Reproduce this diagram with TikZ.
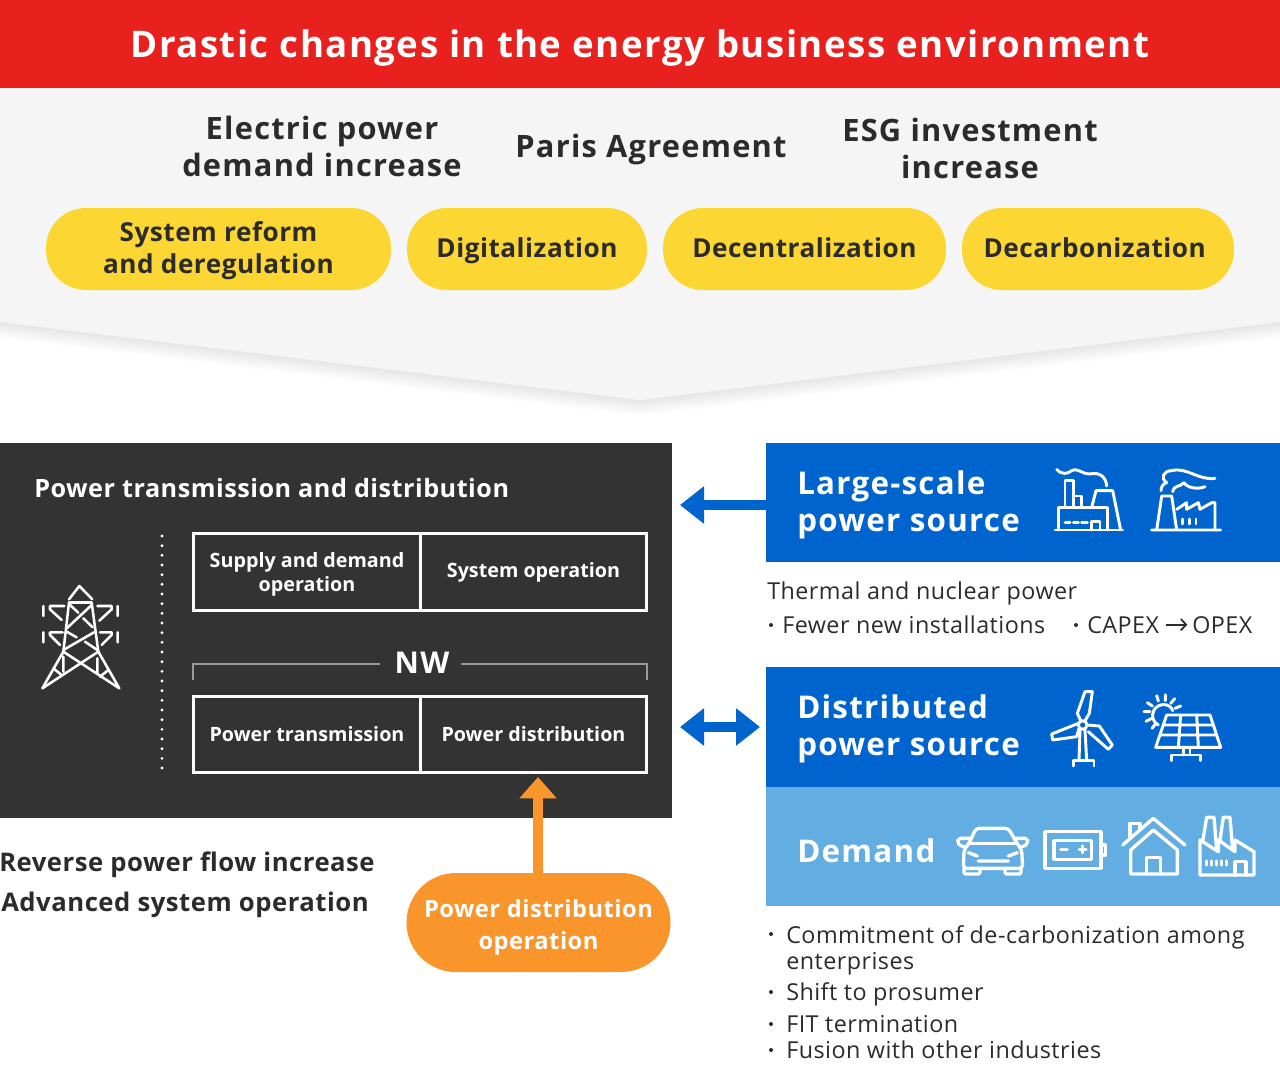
\documentclass[tikz,border=0pt]{standalone}
\usepackage{fontspec}
\usepackage{tikz}
\usetikzlibrary{arrows.meta}
\setmainfont{Open Sans}
\newfontfamily\tsp[LetterSpace=4]{Open Sans}
\newfontfamily\ssp[LetterSpace=2]{Open Sans}
\definecolor{redbar}{HTML}{E8201E}
\definecolor{greybg}{HTML}{F5F5F5}
\definecolor{ink}{HTML}{2B2B2B}
\definecolor{panel}{HTML}{333333}
\definecolor{bluebx}{HTML}{0064CE}
\definecolor{lightbx}{HTML}{62ADE1}
\definecolor{yellowp}{HTML}{FCD734}
\definecolor{orangep}{HTML}{F9952A}
\definecolor{bracketc}{HTML}{9A9A9A}
\newcommand{\fs}[2]{\fontsize{#1}{#2}\selectfont}
\newcommand{\oneline}{\rule[-5pt]{0pt}{23.2pt}}
\tikzset{
 x=0.75pt,y=-0.75pt,
 headline/.style={text=ink,align=center,font=\tsp\bfseries\fs{23.1}{27.7},inner sep=0},
 pill/.style={fill=yellowp,rounded corners=30pt,inner sep=0,outer sep=0,align=center,text=ink,font=\ssp\bfseries\fs{19.6}{24}},
 cell/.style={draw=white,line width=2.25pt,fill=panel,inner sep=0,outer sep=0,align=center,text=white,minimum width=169.9pt,minimum height=57.3pt,font=\bfseries\fs{14.8}{18.5}},
 bluetitle/.style={text=white,align=left,font=\tsp\bfseries\fs{23.5}{28},inner sep=0,anchor=west},
 bodyt/.style={text=ink,font=\ssp\fs{17.5}{21},inner sep=0,anchor=base west},
 lefttxt/.style={text=ink,font=\ssp\bfseries\fs{19.25}{24},inner sep=0},
 iconl/.style={draw=white,line width=2.2pt,line cap=round,line join=round},
 tower/.style={draw=white,line width=1.9pt,line cap=round,line join=round},
 zoomed/.style={x=0.25pt,y=-0.25pt},
 bigarrow/.style={line width=7pt},
 bullet/.style={fill=ink,draw=none,circle,inner sep=0,minimum size=3pt},
}
\begin{document}
\begin{tikzpicture}
\useasboundingbox (0,0) rectangle (1280,1064);
% soft shadow under the grey banner
\foreach \d in {2,4,...,16}
  \fill[black,opacity=0.012] (0,300+\d) -- (1280,300+\d) -- (1280,322+\d) -- (640,400+\d) -- (0,322+\d) -- cycle;
% backgrounds
\fill[greybg] (0,88) -- (1280,88) -- (1280,322) -- (640,400) -- (0,322) -- cycle;
\fill[redbar] (0,0) rectangle (1280,88);
\node[text=white,inner sep=0,font=\tsp\bfseries\fs{27.5}{32}] (title) at (640,47.5) {Drastic changes in the energy business environment};
% headlines
\node[headline] (h1) at (322,146) {Electric power\\demand increase};
\node[headline] (h2) at (651,149) {Paris Agreement};
\node[headline] (h3) at (970,148) {ESG investment\\increase};
% pills
\node[pill,minimum width=258.75pt,minimum height=61.5pt] (p1) at (218.5,249) {\rule{0pt}{18pt}System reform\\and deregulation};
\node[pill,minimum width=180pt,minimum height=61.5pt] (p2) at (527,249) {\oneline Digitalization};
\node[pill,minimum width=212.25pt,minimum height=61.5pt] (p3) at (804.5,249) {\oneline Decentralization};
\node[pill,minimum width=204pt,minimum height=61.5pt] (p4) at (1098,249) {\oneline Decarbonization\hspace*{5pt}};
% dark panel
\fill[panel] (0,443) rectangle (672,818);
\node[anchor=base west,inner sep=0,text=white,font=\ssp\bfseries\fs{18.9}{24}] (ptitle) at (34,497) {Power transmission and distribution};
\foreach \i in {0,...,24} \fill[white] (162,536+\i*9.667) circle[radius=1.6];
\begin{scope}[shift={(20,520)},zoomed]
\draw[tower] (147,238)--(178,198)--(217,238);
\draw[tower] (147,248)--(215,248);
\draw[tower] (147,248)--(130,395)--(67,505)--(235,395);
\draw[tower] (215,248)--(235,395)--(298,505)--(130,395);
\draw[tower] (215,255)--(140,325) (150,255)--(175,278) (190,295)--(218,322) (140,335)--(170,352) (222,337)--(130,390) (195,365)--(235,392);
\draw[tower] (130,410)--(130,455) (232,415)--(232,460) (100,445)--(125,465) (265,450)--(240,470);
\draw[tower] (70,258)--(70,288) (133,258)--(90,258)--(90,268)--(125,300) (232,258)--(275,258)--(275,268)--(238,302) (293,258)--(293,288);
\draw[tower] (70,337)--(70,367) (128,337)--(90,337)--(90,345)--(120,375) (240,337)--(275,337)--(275,345)--(245,375) (293,337)--(293,367);
\end{scope}
% cells
\node[cell] (c1) at (307,572) {\rule{0pt}{15pt}Supply and demand\\operation};
\node[cell] (c2) at (533.5,572) {\rule{0pt}{12.5pt}System operation};
\node[cell] (c3) at (307,734.3) {Power transmission};
\node[cell] (c4) at (533.5,734.3) {Power distribution};
% bracket
\node[text=white,inner sep=0,font=\tsp\bfseries\fs{22.5}{28}] (nw) at (422,663) {NW};
\coordinate (bl) at (193,680);
\coordinate (br) at (647,680);
\draw[bracketc,line width=1.8pt] (bl) -- (193,664) -- (380,664);
\draw[bracketc,line width=1.8pt] (461,664) -- (647,664) -- (br);
% left lower text
\node[lefttxt,anchor=base west] (r1) at (-1,871) {Reverse power flow increase};
\node[lefttxt,anchor=base west] (r2) at (1,911) {Advanced system operation};
% orange pill
\node[pill,fill=orangep,text=white,rounded corners=37pt,minimum width=198pt,minimum height=74.25pt,font=\ssp\bfseries\fs{17.8}{24}] (op) at (538.5,922.5) {\rule{0pt}{21pt}Power distribution\\operation};
\coordinate (otip) at (538,777);
\draw[orangep,line width=7pt,-{Triangle[length=16pt,width=27pt]}] (op.north -| otip) -- (otip);
% right boxes
\fill[bluebx] (766,443) rectangle (1280,562);
\fill[bluebx] (766,667) rectangle (1280,787);
\fill[lightbx] (766,787) rectangle (1280,906);
\coordinate (lb) at (766,505);
\coordinate (ltip) at (680,505);
\draw[bluebx,bigarrow,-{Triangle[length=18pt,width=27pt]}] (lb) -- (ltip);
\coordinate (dl) at (680,727);
\coordinate (dr) at (760,727);
\draw[bluebx,bigarrow,{Triangle[length=18pt,width=27pt]}-{Triangle[length=18pt,width=27pt]}] (dl) -- (dr);
\node[bluetitle,align=left] (b1) at (797,505) {Large-scale\\power source};
\node[bluetitle,align=left] (b2) at (797,729) {Distributed\\power source};
\node[bluetitle] (b3) at (797,851) {Demand};
% factory 1
\begin{scope}[shift={(1030,450)},zoomed]
\draw[iconl] (75,240)--(278,240) (85,240)--(85,172)--(232,172)--(232,240);
\draw[iconl] (105,172)--(105,92)--(130,92)--(130,172) (130,138)--(155,138)--(155,172);
\draw[iconl] (185,172)--(198,122)--(248,122)--(272,240);
\draw[iconl] (105,218)--(120,218) (130,218)--(145,218) (155,218)--(172,218);
\draw[iconl] (185,240)--(185,215)--(210,215)--(210,240);
\draw[iconl] (80,58) .. controls (95,75) and (112,72) .. (125,62) .. controls (145,52) and (160,75) .. (180,72) .. controls (210,65) and (228,82) .. (230,108);
% factory 2
\draw[iconl] (365,240)--(572,240) (380,240)--(395,138)--(425,138)--(440,240);
\draw[iconl] (440,178)--(470,158)--(470,178)--(505,158)--(510,178)--(545,158)--(555,158)--(555,240);
\draw[iconl] (458,207)--(458,222) (478,207)--(478,222) (498,207)--(498,222);
\draw[iconl] (393,122) .. controls (393,108) and (402,100) .. (410,98) .. controls (390,85) and (400,62) .. (425,62) .. controls (470,50) and (505,92) .. (555,85);
\draw[iconl] (428,125) .. controls (430,105) and (450,112) .. (462,98) .. controls (470,112) and (500,120) .. (525,110);
\end{scope}
% wind + solar
\begin{scope}[shift={(1030,680)},zoomed]
\draw[iconl] (158,135) circle[radius=13];
\draw[iconl] (152,122)--(142,100)--(165,35)--(187,35)--(178,100)--(165,122);
\draw[iconl] (145,130)--(65,162)--(68,180)--(140,170)--(147,145);
\draw[iconl] (172,135)--(208,138)--(247,195)--(235,208)--(175,155);
\draw[iconl] (150,150)--(147,242) (165,150)--(170,242);
\draw[iconl] (130,258)--(130,242)--(192,242)--(192,258);
\draw[iconl] (410,105)--(540,105)--(572,202)--(377,202)--cycle;
\draw[iconl] (400,135)--(548,135) (390,165)--(560,165) (452,105)--(445,202) (500,105)--(505,202);
\draw[iconl] (460,202)--(460,225) (480,202)--(480,225) (425,242)--(425,225)--(512,225)--(512,242);
\draw[iconl] (428,92) .. controls (420,68) and (385,68) .. (372,90) .. controls (362,108) and (370,128) .. (385,135);
\draw[iconl] (342,95)--(360,95) (352,68)--(367,78) (380,47)--(385,63) (406,44)--(406,62) (434,56)--(422,70) (452,78)--(435,85) (348,124)--(365,115) (366,145)--(378,130);
\end{scope}
% demand icons
\begin{scope}[shift={(940,800)},zoomed,iconl/.append style={line width=2.5pt}]
% car
\draw[iconl,rounded corners=2.5pt] (72,150)--(88,128)--(108,85)--(205,85)--(230,128)--(245,150)--(248,205)--(70,205)--cycle;
\draw[iconl] (88,130)--(230,130);
\draw[iconl,rounded corners=1.5pt] (92,115)--(55,115)--(52,128)--(65,140)--(80,140);
\draw[iconl,rounded corners=1.5pt] (226,115)--(262,115)--(264,128)--(252,140)--(238,140);
\draw[iconl,rounded corners=1.5pt] (72,205)--(72,222)--(120,222)--(120,205) (195,205)--(195,222)--(243,222)--(243,205);
\draw[iconl] (85,158)--(112,168) (232,158)--(205,168) (115,183)--(205,183);
% battery
\draw[iconl] (315,95) rectangle (483,205) (342,122) rectangle (455,178);
\draw[iconl] (483,135)--(497,135)--(497,165)--(483,165);
\draw[iconl] (362,148)--(382,148) (418,148)--(438,148) (428,138)--(428,158);
% house
\draw[iconl] (548,135)--(640,55)--(735,135);
\draw[iconl] (570,115)--(570,70)--(600,70)--(600,88);
\draw[iconl] (572,150)--(640,90)--(712,150)--(712,222)--(572,222)--cycle;
\draw[iconl] (620,222)--(620,172)--(662,172)--(662,222);
% factory
\draw[iconl] (780,120)--(780,225)--(942,225)--(942,155)--(885,120)--(885,155)--(835,120)--(835,155)--cycle;
\draw[iconl] (788,125)--(800,52)--(822,52)--(830,150) (840,120)--(850,52)--(870,52)--(878,150);
\draw[iconl] (885,225)--(885,185)--(918,185)--(918,225);
\draw[iconl] (800,183)--(800,195) (815,183)--(815,195) (830,183)--(830,195) (845,183)--(845,195) (860,183)--(860,195);
\end{scope}
% body text
\node[bodyt] (t1) at (767,599) {Thermal and nuclear power};
\node[bullet] (bu1) at (771,625) {};
\node[bodyt] (t2) at (782,633) {Fewer new installations};
\node[bullet] (bu2) at (1076,625) {};
\node[bodyt] (t3a) at (1087,633) {CAPEX};
\node[bodyt] (t3b) at (1192,633) {OPEX};
\draw[ink,line width=1.3pt,shorten >=3.5pt,shorten <=5.25pt,-{Straight Barb[length=4pt,width=8.5pt]}] (t3a.east) -- (t3a.east -| t3b.west);
\node[bullet] (bu3) at (771,934) {};
\node[bodyt,align=left,anchor=north west,font=\ssp\fs{17.5}{19.5}] (t4) at (786,925) {Commitment of de-carbonization among\\enterprises};
\node[bullet] (bu4) at (771,992) {};
\node[bodyt] (t5) at (786,1000) {Shift to prosumer};
\node[bullet] (bu5) at (771,1024) {};
\node[bodyt] (t6) at (786,1032) {FIT termination};
\node[bullet] (bu6) at (771,1050) {};
\node[bodyt] (t7) at (786,1058) {Fusion with other industries};
\end{tikzpicture}
\end{document}
